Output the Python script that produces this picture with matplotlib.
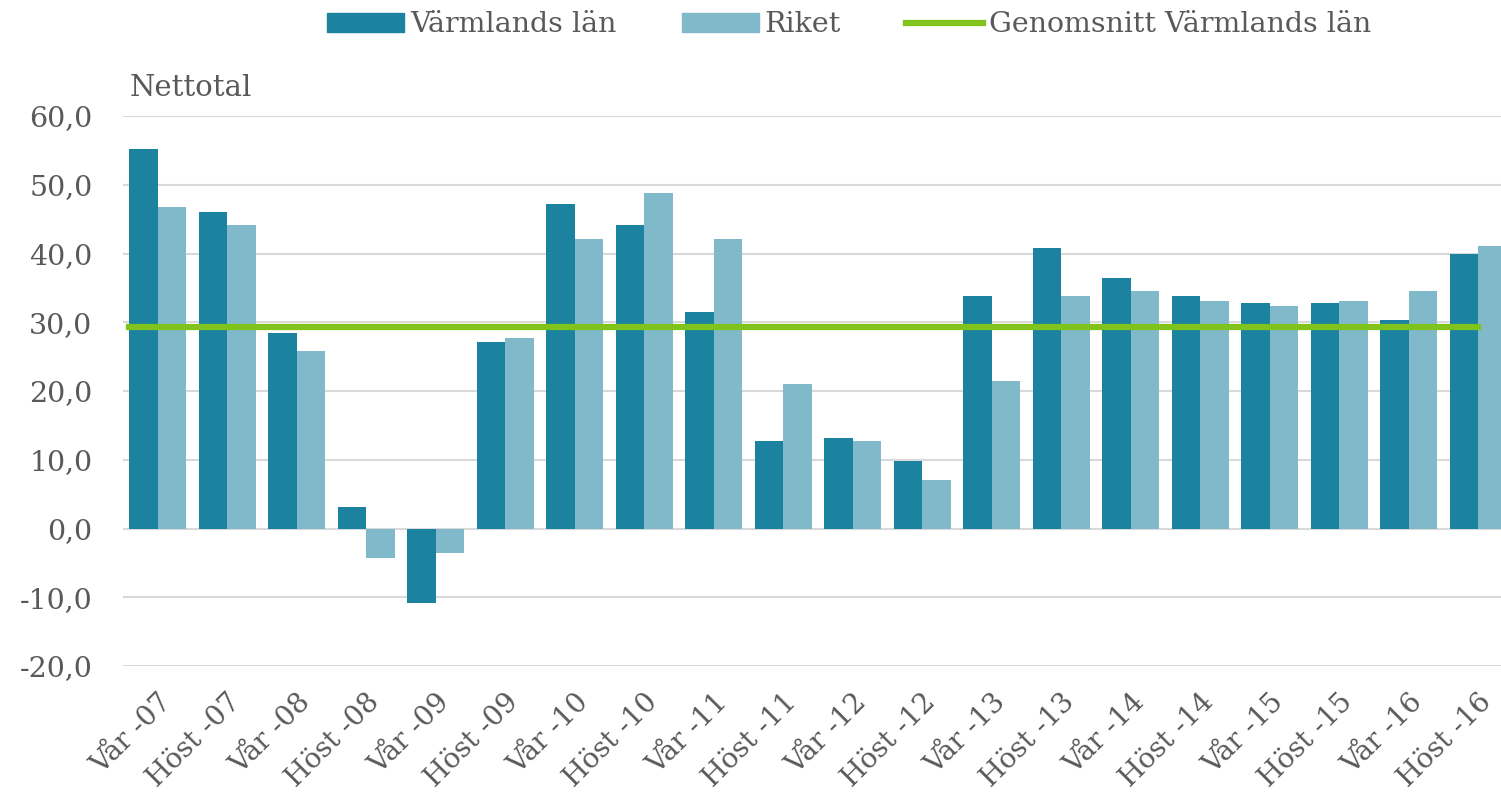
import matplotlib
matplotlib.use("Agg")
import matplotlib.pyplot as plt
import numpy as np
from matplotlib.patches import Patch
from matplotlib.lines import Line2D

categories = ["Vår -07", "Höst -07", "Vår -08", "Höst -08", "Vår -09", "Höst -09",
              "Vår -10", "Höst -10", "Vår -11", "Höst -11", "Vår -12", "Höst -12",
              "Vår -13", "Höst -13", "Vår -14", "Höst -14", "Vår -15", "Höst -15",
              "Vår -16", "Höst -16"]
varmland = [55.2, 46.0, 28.4, 3.1, -10.8, 27.2, 47.2, 44.1, 31.5, 12.8, 13.1, 9.8,
            33.8, 40.8, 36.4, 33.8, 32.8, 32.8, 30.3, 40.0]
riket = [46.7, 44.1, 25.8, -4.3, -3.6, 27.7, 42.1, 48.8, 42.1, 21.0, 12.8, 7.1,
         21.5, 33.8, 34.5, 33.1, 32.3, 33.1, 34.5, 41.1]
average = 29.3
yticks = [-20, -10, 0, 10, 20, 30, 40, 50, 60]

c_v = "#1B82A0"
c_r = "#80B9CA"
c_g = "#7FC31C"
txt = "#595959"
font = "DejaVu Serif"

fig = plt.figure(figsize=(15.01, 8.05), dpi=100)
W, H = 1501, 805
left, right, top, bottom = 123, 123 + 20 * 69.5, 116, 666
ax = fig.add_axes([left / W, 1 - bottom / H, (right - left) / W, (bottom - top) / H])

x = np.arange(len(categories))
bw = 0.41
ax.bar(x - bw / 2, varmland, width=bw, color=c_v, zorder=2)
ax.bar(x + bw / 2, riket, width=bw, color=c_r, zorder=2)
ax.plot([x[0] - bw, x[-1]], [average, average], color=c_g, lw=4.5, zorder=3)

ax.set_xlim(-0.5, len(categories) - 0.5)
ax.set_ylim(-20, 60)
ax.set_yticks(yticks)
ax.set_yticklabels([f"{v:.1f}".replace(".", ",") for v in yticks],
                   fontsize=20.5, color=txt, family=font)
ax.yaxis.grid(True, color="#D9D9D9", lw=1.5, zorder=0)
ax.set_axisbelow(True)
ax.tick_params(axis="y", length=0, pad=22)
ax.tick_params(axis="x", length=0, pad=16)
ax.set_xticks(x)
ax.set_xticklabels(categories, rotation=45, ha="right", rotation_mode="anchor",
                   fontsize=20, color=txt, family=font)
for s in ax.spines.values():
    s.set_visible(False)

fig.text(130 / W, 1 - 88 / H, "Nettotal", fontsize=21, color=txt, family=font,
         va="center", ha="left")

handles = [Patch(color=c_v), Patch(color=c_r), Line2D([], [], color=c_g, lw=4.5)]
labels = ["Värmlands län", "Riket", "Genomsnitt Värmlands län"]
fig.legend(handles, labels, loc="center", bbox_to_anchor=(849 / W, 1 - 25 / H), ncol=3,
           frameon=False, prop={"family": font, "size": 20.5}, labelcolor=txt,
           handlelength=2.7, handleheight=0.7, handletextpad=0.2, columnspacing=2.3)

fig.savefig("out.png", dpi=100)
